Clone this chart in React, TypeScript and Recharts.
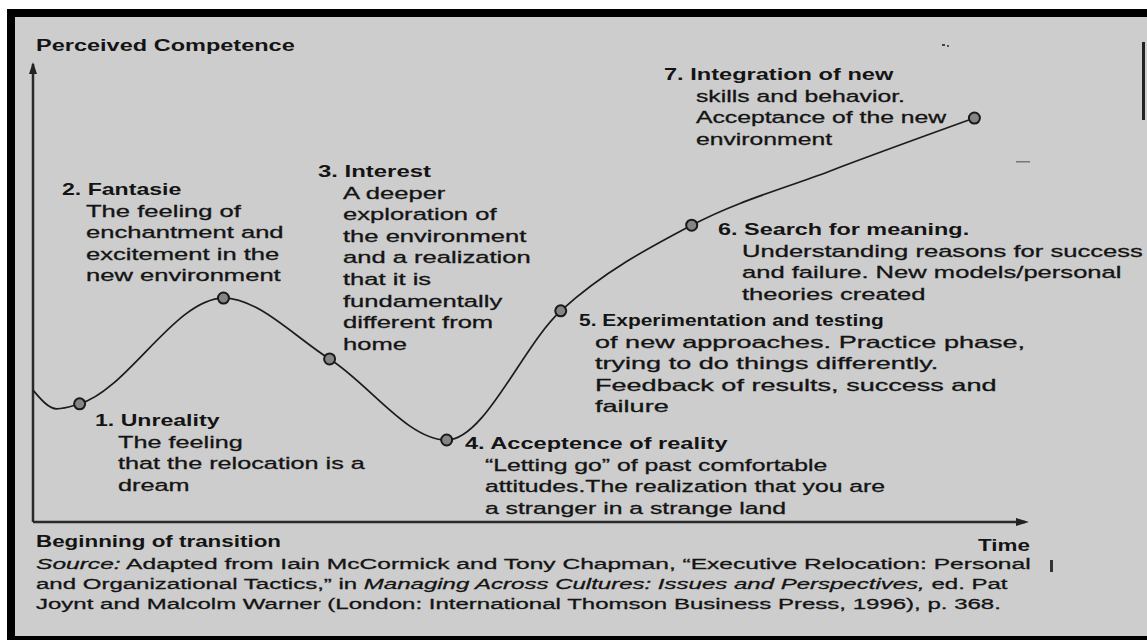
import { LineChart, Line, XAxis, YAxis, ReferenceDot, ReferenceLine } from 'recharts';

// curve: time (0-100 along the axis) vs perceived competence (0-100)
const timeline = [0, 2.4, 4.7, 19.2, 29.9, 41.7, 53.2, 66.4, 80.3, 94.9];
const competence = [28.8, 24.7, 25.8, 48.9, 35.6, 17.9, 46.1, 64.8, 76.6, 88.2];
const stageNo = [0, 0, 1, 2, 3, 4, 5, 6, 0, 7];

const stageTitles = [
  '1. Unreality',
  '2. Fantasie',
  '3. Interest',
  '4. Acceptence of reality',
  '5. Experimentation and testing',
  '6. Search for meaning.',
  '7. Integration of new',
];

const stageBodies = [
  ['The feeling', 'that the relocation is a', 'dream'],
  ['The feeling of', 'enchantment and', 'excitement in the', 'new environment'],
  [
    'A deeper',
    'exploration of',
    'the environment',
    'and a realization',
    'that it is',
    'fundamentally',
    'different from',
    'home',
  ],
  ['\u201CLetting go\u201D of past comfortable', 'attitudes.The realization that you are', 'a stranger in a strange land'],
  ['of new approaches. Practice phase,', 'trying to do things differently.', 'Feedback of results, success and', 'failure'],
  ['Understanding reasons for success', 'and failure. New models/personal', 'theories created'],
  ['skills and behavior.', 'Acceptance of the new', 'environment'],
];

// where each note block sits: title x, body x, title baseline, horizontal stretch of title / body
const notePos = [
  { tx: 95, bx: 118, y: 426, ts: 1.4, bs: 1.53 },
  { tx: 62, bx: 86, y: 195, ts: 1.4, bs: 1.55 },
  { tx: 318, bx: 343, y: 177, ts: 1.45, bs: 1.55 },
  { tx: 465, bx: 485, y: 449, ts: 1.43, bs: 1.5 },
  { tx: 579, bx: 595, y: 326, ts: 1.27, bs: 1.64 },
  { tx: 718, bx: 742, y: 235, ts: 1.42, bs: 1.55 },
  { tx: 664, bx: 696, y: 80, ts: 1.43, bs: 1.5 },
];

const chartData = timeline.map((t, i) => ({ t, competence: competence[i], stage: stageNo[i] }));

const FONT = '"Liberation Sans", Arial, Helvetica, sans-serif';
const INK = '#141414';

function Txt({ x, y, bold, size = 16.5, sx, children }: any) {
  const s = sx ?? (bold ? 1.4 : 1.53);
  return (
    <text
      transform={`translate(${x} ${y}) scale(${s} 1)`}
      fontFamily={FONT}
      fontSize={size}
      fontWeight={bold ? 700 : 400}
      fill={INK}
      stroke={bold ? 'none' : INK}
      strokeWidth={bold ? 0 : 0.3}
    >
      {children}
    </text>
  );
}

function StageDot(props: any) {
  const { cx, cy, payload, index } = props;
  if (!payload.stage) return <g key={`d${index}`} />;
  return <circle key={`d${index}`} cx={cx} cy={cy} r={5.5} fill="#858585" stroke="#1a1a1a" strokeWidth={2} />;
}

export default function App() {
  return (
    <div style={{ position: 'absolute', left: 0, top: 0, width: 1147, height: 640, background: '#fff', overflow: 'hidden' }}>
      <div style={{ position: 'absolute', left: 7, top: 9, width: 1140, height: 631, background: '#000' }} />
      <div style={{ position: 'absolute', left: 15, top: 17, width: 1132, height: 619, background: '#cdcdcd' }} />
      <div style={{ position: 'absolute', left: 0, top: 0 }}>
        <LineChart width={1147} height={640} data={chartData} margin={{ top: 64, right: 122, bottom: 118, left: 33 }}>
          <XAxis dataKey="t" type="number" domain={[0, 100]} hide />
          <YAxis type="number" domain={[0, 100]} hide />
          <ReferenceLine x={0} stroke="#2a2a2a" strokeWidth={2.5} ifOverflow="visible" />
          <ReferenceLine y={0} stroke="#2a2a2a" strokeWidth={2.5} ifOverflow="visible" />
          <ReferenceDot
            x={100}
            y={0}
            ifOverflow="visible"
            shape={(p: any) => (
              <polygon points={`${p.cx + 4},${p.cy} ${p.cx - 9},${p.cy - 4} ${p.cx - 9},${p.cy + 4}`} fill="#222" />
            )}
          />
          <ReferenceDot
            x={0}
            y={100}
            ifOverflow="visible"
            shape={(p: any) => (
              <polygon points={`${p.cx},${p.cy - 2} ${p.cx - 4},${p.cy + 10} ${p.cx + 4},${p.cy + 10}`} fill="#222" />
            )}
          />
          <Line
            type="monotone"
            dataKey="competence"
            stroke="#1c1c1c"
            strokeWidth={1.7}
            dot={StageDot}
            activeDot={false}
            isAnimationActive={false}
          />
        </LineChart>
      </div>
      <svg width={1147} height={640} style={{ position: 'absolute', left: 0, top: 0, pointerEvents: 'none' }}>
        <Txt x={36} y={51} bold size={16} sx={1.47}>Perceived Competence</Txt>
        {stageTitles.map((title, i) => (
          <g key={title}>
            <Txt x={notePos[i].tx} y={notePos[i].y} bold sx={notePos[i].ts}>{title}</Txt>
            {stageBodies[i].map((line, j) => (
              <Txt key={line} x={notePos[i].bx} y={notePos[i].y + 21.6 * (j + 1)} sx={notePos[i].bs}>{line}</Txt>
            ))}
          </g>
        ))}
        <Txt x={36} y={547} bold size={16}>Beginning of transition</Txt>
        <Txt x={978} y={551} bold size={16}>Time</Txt>
        <Txt x={36} y={569} size={15.5} sx={1.585}>
          <tspan fontStyle="italic">Source:</tspan> Adapted from Iain McCormick and Tony Chapman, {'\u201C'}Executive Relocation: Personal
        </Txt>
        <Txt x={36} y={589} size={15.5} sx={1.55}>
          and Organizational Tactics,{'\u201D'} in <tspan fontStyle="italic">Managing Across Cultures: Issues and Perspectives,</tspan> ed. Pat
        </Txt>
        <Txt x={36} y={609} size={15.5} sx={1.55}>
          Joynt and Malcolm Warner (London: International Thomson Business Press, 1996), p. 368.
        </Txt>
        <rect x={1142} y={42} width={3} height={78} fill="#222" />
        <rect x={1050} y={560} width={3} height={12} fill="#333" />
        <rect x={942} y={44} width={3} height={2} fill="#444" />
        <rect x={947} y={45} width={2} height={2} fill="#555" />
        <rect x={1016} y={161} width={14} height={1.5} fill="#777" />
      </svg>
    </div>
  );
}
